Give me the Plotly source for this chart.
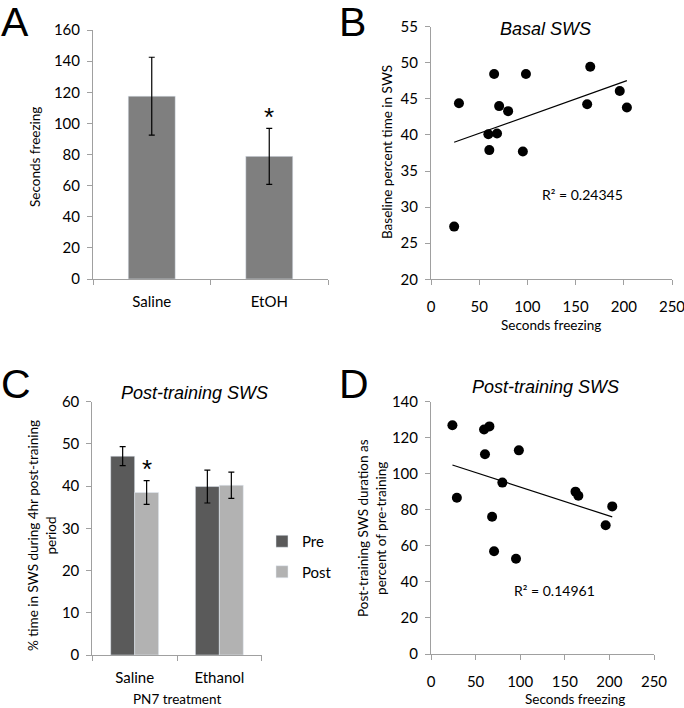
import numpy as np
import plotly.graph_objects as go

# ---------------- data ----------------
a_groups = ["Saline", "EtOH"]
a_freezing = [117.5, 78.8]
a_err = [25.0, 18.0]

freezing_s = [24, 29, 59.5, 60.5, 65.5, 68.5, 70.7, 80, 95.3, 98.5, 162, 165.2, 195.8, 203.2]
basal_sws = [27.3, 44.4, 40.1, 37.9, 48.45, 40.2, 44.0, 43.3, 37.7, 48.45, 44.25, 49.46, 46.1, 43.8]
post_pct = [126.9, 86.7, 124.6, 110.8, 126.3, 76.2, 57.0, 95.1, 52.9, 113.0, 90.1, 87.8, 71.4, 81.9]

c_groups = ["Saline", "Ethanol"]
c_pre = [47.1, 39.9]
c_pre_err = [2.25, 3.9]
c_post = [38.5, 40.2]
c_post_err = [2.8, 3.1]

b_r2 = "R\u00b2 = 0.24345"
d_r2 = "R\u00b2 = 0.14961"

# ---------------- style ----------------
W, H = 684, 708
FONT = "Lato"
AX = "#a0a0a0"
def px_x(p): return p / W
def px_y(p): return 1 - p / H

fig = go.Figure()

# Panel A
fig.add_trace(go.Bar(x=a_groups, y=a_freezing, width=0.4, marker_color="#7f7f7f",
                     error_y=dict(type="data", array=a_err, color="#000", thickness=1.2, width=3),
                     xaxis="x", yaxis="y", showlegend=False))

# Panel B
fig.add_trace(go.Scatter(x=freezing_s, y=basal_sws, mode="markers",
                         marker=dict(color="black", size=10), xaxis="x2", yaxis="y2", showlegend=False))
kb = np.polyfit(freezing_s, basal_sws, 1)
xb = [min(freezing_s), max(freezing_s)]
fig.add_trace(go.Scatter(x=xb, y=list(np.polyval(kb, xb)), mode="lines",
                         line=dict(color="black", width=1.2), xaxis="x2", yaxis="y2", showlegend=False))

# Panel C
bw = 0.283
fig.add_trace(go.Bar(x=c_groups, y=c_pre, name="Pre", width=bw, offset=-bw, marker_color="#5a5a5a",
                     legendgroup="pre",
                     error_y=dict(type="data", array=c_pre_err, color="#000", thickness=1.2, width=3),
                     xaxis="x3", yaxis="y3"))
fig.add_trace(go.Bar(x=c_groups, y=c_post, name="Post", width=bw, offset=0, marker_color="#b2b2b2",
                     legendgroup="post",
                     error_y=dict(type="data", array=c_post_err, color="#000", thickness=1.2, width=3),
                     xaxis="x3", yaxis="y3"))

# Panel D
fig.add_trace(go.Scatter(x=freezing_s, y=post_pct, mode="markers",
                         marker=dict(color="black", size=10), xaxis="x4", yaxis="y4", showlegend=False))
kd = np.polyfit(freezing_s, post_pct, 1)
fig.add_trace(go.Scatter(x=xb, y=list(np.polyval(kd, xb)), mode="lines",
                         line=dict(color="black", width=1.2), xaxis="x4", yaxis="y4", showlegend=False))

tickfont = dict(family=FONT, size=15, color="#000")
common = dict(showline=True, linecolor=AX, linewidth=1, ticks="outside", ticklen=5, tickcolor=AX,
              showgrid=False, zeroline=False, tickfont=tickfont, automargin=False,
              ticklabeloverflow="allow")
xcommon = dict(common, ticklabelstandoff=9)
ycommon = dict(common, ticklabelstandoff=4)

fig.update_layout(
    width=W, height=H, margin=dict(l=0, r=0, t=0, b=0, autoexpand=False),
    paper_bgcolor="white", plot_bgcolor="white", barmode="overlay",
    font=dict(family=FONT, size=13, color="#000"),
    xaxis=dict(domain=[px_x(93), px_x(328)], anchor="y", type="category", range=[-0.5, 1.5],
               tickson="boundaries", **xcommon),
    yaxis=dict(domain=[px_y(279), px_y(30)], anchor="x", range=[0, 160], dtick=20, **ycommon),
    xaxis2=dict(domain=[px_x(431), px_x(672)], anchor="y2", range=[0, 250], dtick=50, **xcommon),
    yaxis2=dict(domain=[px_y(279.3), px_y(26.7)], anchor="x2", range=[20, 55], dtick=5, **ycommon),
    xaxis3=dict(domain=[px_x(92.3), px_x(261.7)], anchor="y3", type="category", range=[-0.5, 1.5],
                tickson="boundaries", **xcommon),
    yaxis3=dict(domain=[px_y(655), px_y(401.7)], anchor="x3", range=[0, 60], dtick=10, **ycommon),
    xaxis4=dict(domain=[px_x(431), px_x(654)], anchor="y4", range=[0, 250], dtick=50, **xcommon),
    yaxis4=dict(domain=[px_y(654), px_y(401.7)], anchor="x4", range=[0, 140], dtick=20, **ycommon),
    legend=dict(x=px_x(262), y=px_y(525), xanchor="left", yanchor="top", itemwidth=30,
                traceorder="grouped", tracegroupgap=8,
                font=dict(family=FONT, size=15), bgcolor="rgba(0,0,0,0)"),
)

ann = []
def paper_text(text, x, y, size=13, angle=0, family=FONT, xanchor="center", yanchor="middle", italic=False):
    if italic:
        text = "<i>" + text + "</i>"
    ann.append(dict(text=text, x=px_x(x), y=px_y(y), xref="paper", yref="paper", showarrow=False,
                    textangle=angle, xanchor=xanchor, yanchor=yanchor,
                    font=dict(family=family, size=size, color="#000")))

# panel letters
paper_text("A", -1, 22, size=41, family="Liberation Sans", xanchor="left")
paper_text("B", 337, 22, size=41, family="Liberation Sans", xanchor="left")
paper_text("C", -1, 384, size=41, family="Liberation Sans", xanchor="left")
paper_text("D", 337, 384, size=41, family="Liberation Sans", xanchor="left")

# titles
paper_text("Basal SWS", 545, 29, size=18, family="Liberation Sans", italic=True)
paper_text("Post-training SWS", 194, 393, size=18, family="Liberation Sans", italic=True)
paper_text("Post-training SWS", 545, 387, size=18, family="Liberation Sans", italic=True)

# axis titles
paper_text("Seconds freezing", 35, 157, size=13.5, angle=-90)
paper_text("Baseline percent time in SWS", 387, 152, size=13.5, angle=-90)
paper_text("Seconds freezing", 551, 325, size=13.5)
paper_text("% time in SWS during 4hr post-training<br>period", 42, 536, size=13.5, angle=-90)
paper_text("PN7 treatment", 177, 699, size=13.5)
paper_text("Post-training SWS duration as<br>percent of pre-training", 372, 528, size=13.5, angle=-90)
paper_text("Seconds freezing", 575, 699, size=13.5)

fig.update_layout(annotations=ann)

# data-anchored texts
fig.add_annotation(text="*", x="EtOH", y=104, xref="x", yref="y", showarrow=False,
                   font=dict(family="Liberation Sans", size=26, color="#000"), yanchor="middle")
fig.add_annotation(text="*", x=0.14, y=44.0, xref="x3", yref="y3", showarrow=False,
                   font=dict(family="Liberation Sans", size=26, color="#000"), yanchor="middle")
fig.add_annotation(text=b_r2, x=157, y=31.7, xref="x2", yref="y2", showarrow=False,
                   font=dict(family=FONT, size=14, color="#000"))
fig.add_annotation(text=d_r2, x=139, y=35, xref="x4", yref="y4", showarrow=False,
                   font=dict(family=FONT, size=14, color="#000"))

fig.write_html("out.html", config={"displayModeBar": False},
               post_script="document.body.style.margin='0px';document.body.style.overflow='hidden';")
